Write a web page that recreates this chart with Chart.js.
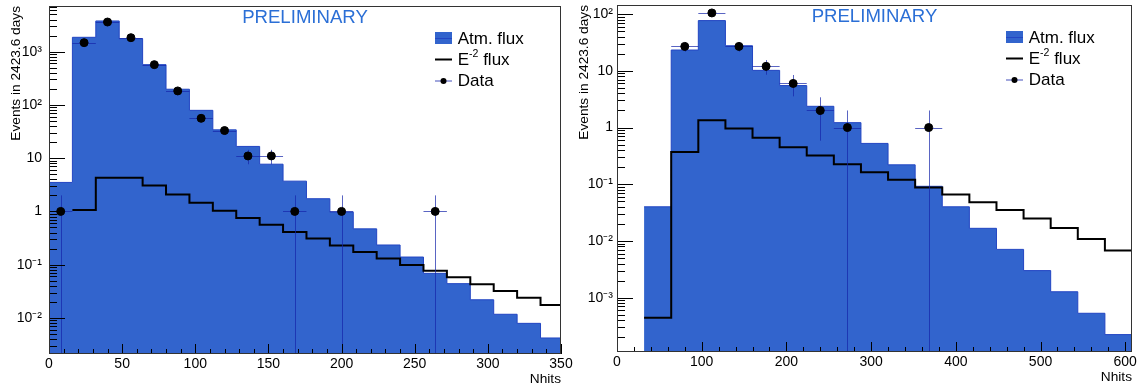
<!DOCTYPE html>
<html>
<head>
<meta charset="utf-8">
<script src="https://cdn.jsdelivr.net/npm/chart.js@4.4.0/dist/chart.umd.min.js"></script>
<style>
  html, body { margin: 0; padding: 0; background: #fff; }
  #wrap { position: relative; width: 1137px; height: 389px; }
  #leftChart { position: absolute; left: 0; top: 0; z-index: 2; }
  #rightChart { position: absolute; left: 568px; top: 0; z-index: 1; }
</style>
</head>
<body>
<div id="wrap">
  <canvas id="leftChart" width="576" height="389"></canvas>
  <canvas id="rightChart" width="569" height="389"></canvas>
</div>
<script>
// ---- left panel (Nhits bins of 16) ----
const leftEdges = [0, 16, 32, 48, 64, 80, 96, 112, 128, 144, 160, 176, 192, 208, 224, 240, 256, 272, 288, 304, 320, 336, 352];
const leftAtm = [3.5, 1860, 3770, 1750, 570, 197, 79, 34, 16.6, 7.7, 3.7, 1.73, 0.97, 0.47, 0.234, 0.139, 0.0687, 0.044, 0.0219, 0.0117, 0.0079, 0.0042];
const leftE2 = [0, 1.06, 4.3, 4.3, 3.08, 2.08, 1.46, 1.03, 0.75, 0.56, 0.41, 0.31, 0.23, 0.173, 0.13, 0.098, 0.077, 0.058, 0.043, 0.032, 0.024, 0.0175];
const leftDataX = [8, 24, 40, 56, 72, 88, 104, 120, 136, 152, 168, 200, 264];
const leftDataY = [1, 1475, 3600, 1830, 570, 183, 56, 33, 11, 11, 1, 1, 1];
const leftXTicks = [0, 50, 100, 150, 200, 250, 300, 350];
const leftYTicks = [0.01, 0.1, 1, 10, 100, 1000];
const leftYLabels = ['10\u207B\u00B2', '10\u207B\u00B9', '1', '10', '10\u00B2', '10\u00B3'];

// ---- right panel (Nhits bins of 32) ----
const rightEdges = [0, 32, 64, 96, 128, 160, 192, 224, 256, 288, 320, 352, 384, 416, 448, 480, 512, 544, 576, 608];
const rightAtm = [0, 0.040, 23.3, 77, 27.7, 10.2, 5.5, 2.37, 1.22, 0.525, 0.22, 0.092, 0.040, 0.0167, 0.0071, 0.0030, 0.00127, 0.00053, 0.000223];
const rightE2 = [0, 0.00044, 0.37, 1.35, 0.96, 0.66, 0.45, 0.32, 0.225, 0.163, 0.12, 0.088, 0.066, 0.048, 0.035, 0.025, 0.017, 0.0108, 0.0068];
const rightDataX = [80, 112, 144, 176, 208, 240, 272, 368];
const rightDataY = [27, 105, 27, 12, 6, 2, 1, 1];
const rightXTicks = [0, 100, 200, 300, 400, 500, 600];
const rightYTicks = [0.001, 0.01, 0.1, 1, 10, 100];
const rightYLabels = ['10\u207B\u00B3', '10\u207B\u00B2', '10\u207B\u00B9', '1', '10', '10\u00B2'];

const seriesNames = ['Atm. flux', 'E^{-2} flux', 'Data'];
const FONT = "'Liberation Sans', Arial, Helvetica, sans-serif";
const fillBlue = 'rgb(50,100,205)';

// histogram as step points: low edges + closing upper edge
function histPoints(edges, values) {
    const pts = values.map((v, i) => ({x: edges[i], y: v}));
    pts.push({x: edges[values.length], y: values[values.length - 1]});
    return pts;
}

// draw text with ^{...} superscripts
function drawRich(ctx, text, x, y, size) {
    const parts = text.split(/\^\{(.*?)\}/);
    parts.forEach((p, i) => {
        if (!p) return;
        const sup = i % 2 === 1;
        ctx.font = (sup ? size * 0.62 : size) + 'px ' + FONT;
        ctx.fillText(p, x, sup ? y - size * 0.38 : y);
        x += ctx.measureText(p).width;
    });
}

// keep the plot frame exactly where the layout padding puts it
function noScalePadding(s) {
    s.paddingTop = 0; s.paddingBottom = 0; s.paddingLeft = 0; s.paddingRight = 0;
}

// ROOT-like ticks: inside the frame, on left and bottom axes only
function drawAxisTicks(chart, xMajor, xMinor) {
    const xs = chart.scales.x, ys = chart.scales.y, ctx = chart.ctx, a = chart.chartArea;
    ctx.save();
    ctx.strokeStyle = '#000';
    ctx.lineWidth = 1;
    ctx.beginPath();
    const d0 = Math.floor(Math.log10(ys.min)), d1 = Math.ceil(Math.log10(ys.max));
    for (let d = d0; d <= d1; d++) {
        for (let m = 1; m <= 9; m++) {
            const v = m * Math.pow(10, d);
            if (v < ys.min || v > ys.max) continue;
            const py = Math.round(ys.getPixelForValue(v)) + 0.5;
            ctx.moveTo(a.left, py);
            ctx.lineTo(a.left + (m === 1 ? 16 : 8), py);
        }
    }
    const n = Math.floor((xs.max - xs.min) / xMinor + 1e-6);
    for (let i = 0; i <= n; i++) {
        const v = xs.min + i * xMinor;
        const px = Math.round(xs.getPixelForValue(v)) + 0.5;
        const major = Math.abs(v / xMajor - Math.round(v / xMajor)) < 1e-6;
        ctx.moveTo(px, a.bottom);
        ctx.lineTo(px, a.bottom - (major ? 10 : 5));
    }
    ctx.stroke();
    // frame
    ctx.strokeStyle = '#333';
    ctx.strokeRect(a.left + 0.5, a.top + 0.5, a.right - a.left - 1, a.bottom - a.top - 1);
    ctx.restore();
}

const rootStyle = {
    id: 'rootStyle',
    beforeDatasetDraw(chart, args) {
        const ds = chart.data.datasets[args.index];
        if (!ds.errorHalfWidth) return;
        const xs = chart.scales.x, ys = chart.scales.y, ctx = chart.ctx, a = chart.chartArea;
        ctx.save();
        ctx.beginPath();
        ctx.rect(a.left, a.top, a.right - a.left, a.bottom - a.top);
        ctx.clip();
        ctx.strokeStyle = 'rgba(20,35,170,0.7)';
        ctx.lineWidth = 1;
        ds.data.forEach(p => {
            const err = Math.sqrt(p.y);
            const px = Math.round(xs.getPixelForValue(p.x)) + 0.5;
            const py = Math.round(ys.getPixelForValue(p.y)) + 0.5;
            const lo = p.y - err > 0 ? ys.getPixelForValue(p.y - err) : a.bottom;
            ctx.beginPath();
            ctx.moveTo(xs.getPixelForValue(p.x - ds.errorHalfWidth), py);
            ctx.lineTo(xs.getPixelForValue(p.x + ds.errorHalfWidth), py);
            ctx.moveTo(px, ys.getPixelForValue(p.y + err));
            ctx.lineTo(px, lo);
            ctx.stroke();
        });
        ctx.restore();
    },
    afterDraw(chart, args, opts) {
        drawAxisTicks(chart, opts.xMajor || 50, opts.xMinor || 10);
        const ctx = chart.ctx, a = chart.chartArea;
        ctx.save();
        // PRELIMINARY tag
        ctx.fillStyle = '#2b6fd6';
        ctx.font = '18.6px ' + FONT;
        ctx.textAlign = 'center';
        ctx.textBaseline = 'middle';
        ctx.fillText('PRELIMINARY', (a.left + a.right) / 2, a.top + 12);
        // legend
        const lx = a.right - 126;
        const rows = [32, 53.5, 74.5];
        ctx.textAlign = 'left';
        chart.data.datasets.forEach((ds, i) => {
            const cy = a.top + rows[i];
            if (ds.fill) {
                ctx.fillStyle = ds.backgroundColor;
                ctx.fillRect(lx, cy - 6, 17, 12);
                ctx.strokeStyle = ds.borderColor;
                ctx.lineWidth = 1;
                ctx.beginPath(); ctx.moveTo(lx, cy + 0.5); ctx.lineTo(lx + 17, cy + 0.5); ctx.stroke();
            } else if (ds.errorHalfWidth) {
                ctx.strokeStyle = 'rgba(20,35,170,0.8)';
                ctx.lineWidth = 1;
                ctx.beginPath(); ctx.moveTo(lx, cy + 0.5); ctx.lineTo(lx + 17, cy + 0.5); ctx.stroke();
                ctx.fillStyle = '#000';
                ctx.beginPath(); ctx.arc(lx + 8.5, cy + 0.5, 3, 0, Math.PI * 2); ctx.fill();
            } else {
                ctx.strokeStyle = ds.borderColor;
                ctx.lineWidth = 2;
                ctx.beginPath(); ctx.moveTo(lx, cy); ctx.lineTo(lx + 17, cy); ctx.stroke();
            }
            ctx.fillStyle = '#000';
            drawRich(ctx, ds.label, lx + 22.7, cy + 1, 17);
        });
        ctx.restore();
    }
};

function makeChart(id, cfg) {
    const ctx = document.getElementById(id).getContext('2d');
    return new Chart(ctx, {
        type: 'line',
        data: {
            datasets: [
                {
                    label: seriesNames[0],
                    data: histPoints(cfg.edges, cfg.atm),
                    stepped: true,
                    fill: 'start',
                    backgroundColor: fillBlue,
                    borderColor: 'rgb(35,70,195)',
                    borderWidth: 1,
                    pointRadius: 0,
                    order: 3
                },
                {
                    label: seriesNames[1],
                    data: histPoints(cfg.edges, cfg.e2),
                    stepped: true,
                    fill: false,
                    borderColor: '#000',
                    borderWidth: 2,
                    pointRadius: 0,
                    order: 2
                },
                {
                    label: seriesNames[2],
                    data: cfg.dataX.map((x, i) => ({x: x, y: cfg.dataY[i]})),
                    showLine: false,
                    pointRadius: 4,
                    pointBackgroundColor: '#000',
                    pointBorderColor: '#000',
                    errorHalfWidth: cfg.halfWidth,
                    order: 1
                }
            ]
        },
        options: {
            responsive: false,
            animation: false,
            layout: { padding: { top: cfg.top, right: cfg.right, left: 0, bottom: 0 } },
            plugins: {
                legend: { display: false },
                tooltip: { enabled: false },
                rootStyle: { xMajor: cfg.xMajor, xMinor: cfg.xMinor }
            },
            scales: {
                x: {
                    type: 'linear',
                    min: 0,
                    max: cfg.xMax,
                    grid: { display: false, drawTicks: false },
                    border: { display: false },
                    afterBuildTicks: s => { s.ticks = cfg.xTicks.map(v => ({value: v})); },
                    afterFit: s => { s.height = 389 - cfg.bottom; noScalePadding(s); },
                    ticks: {
                        autoSkip: false,
                        maxRotation: 0,
                        padding: 2,
                        color: '#000',
                        font: { family: FONT, size: 14 },
                        callback: v => String(v)
                    },
                    title: {
                        display: true,
                        text: 'Nhits',
                        align: 'end',
                        color: '#000',
                        font: { family: FONT, size: 13.7 },
                        padding: { top: 0, bottom: cfg.titleBottom }
                    }
                },
                y: {
                    type: 'logarithmic',
                    min: cfg.yMin,
                    max: cfg.yMax,
                    grid: { display: false, drawTicks: false },
                    border: { display: false },
                    afterBuildTicks: s => { s.ticks = cfg.yTicks.map(v => ({value: v})); },
                    afterFit: s => { s.width = 49; noScalePadding(s); },
                    ticks: {
                        padding: cfg.yPad,
                        color: '#000',
                        font: { family: FONT, size: 14 },
                        callback: (v, i) => cfg.yLabels[i]
                    },
                    title: {
                        display: true,
                        text: 'Events in 2423.6 days',
                        align: 'end',
                        color: '#000',
                        font: { family: FONT, size: 13.7 },
                        padding: { top: 8, bottom: 0 }
                    }
                }
            }
        },
        plugins: [rootStyle]
    });
}

makeChart('leftChart', {
    edges: leftEdges, atm: leftAtm, e2: leftE2, dataX: leftDataX, dataY: leftDataY,
    xTicks: leftXTicks, yTicks: leftYTicks, yLabels: leftYLabels,
    xMax: 350, yMin: 0.0021, yMax: 7200, halfWidth: 8,
    xMajor: 50, xMinor: 10, top: 6, right: 15, bottom: 354, titleBottom: 2, yPad: 7
});

makeChart('rightChart', {
    edges: rightEdges, atm: rightAtm, e2: rightE2, dataX: rightDataX, dataY: rightDataY,
    xTicks: rightXTicks, yTicks: rightYTicks, yLabels: rightYLabels,
    xMax: 608, yMin: 0.00011, yMax: 145, halfWidth: 16,
    xMajor: 100, xMinor: 20, top: 2, right: 4, bottom: 352, titleBottom: 4, yPad: 4
});
</script>
</body>
</html>
